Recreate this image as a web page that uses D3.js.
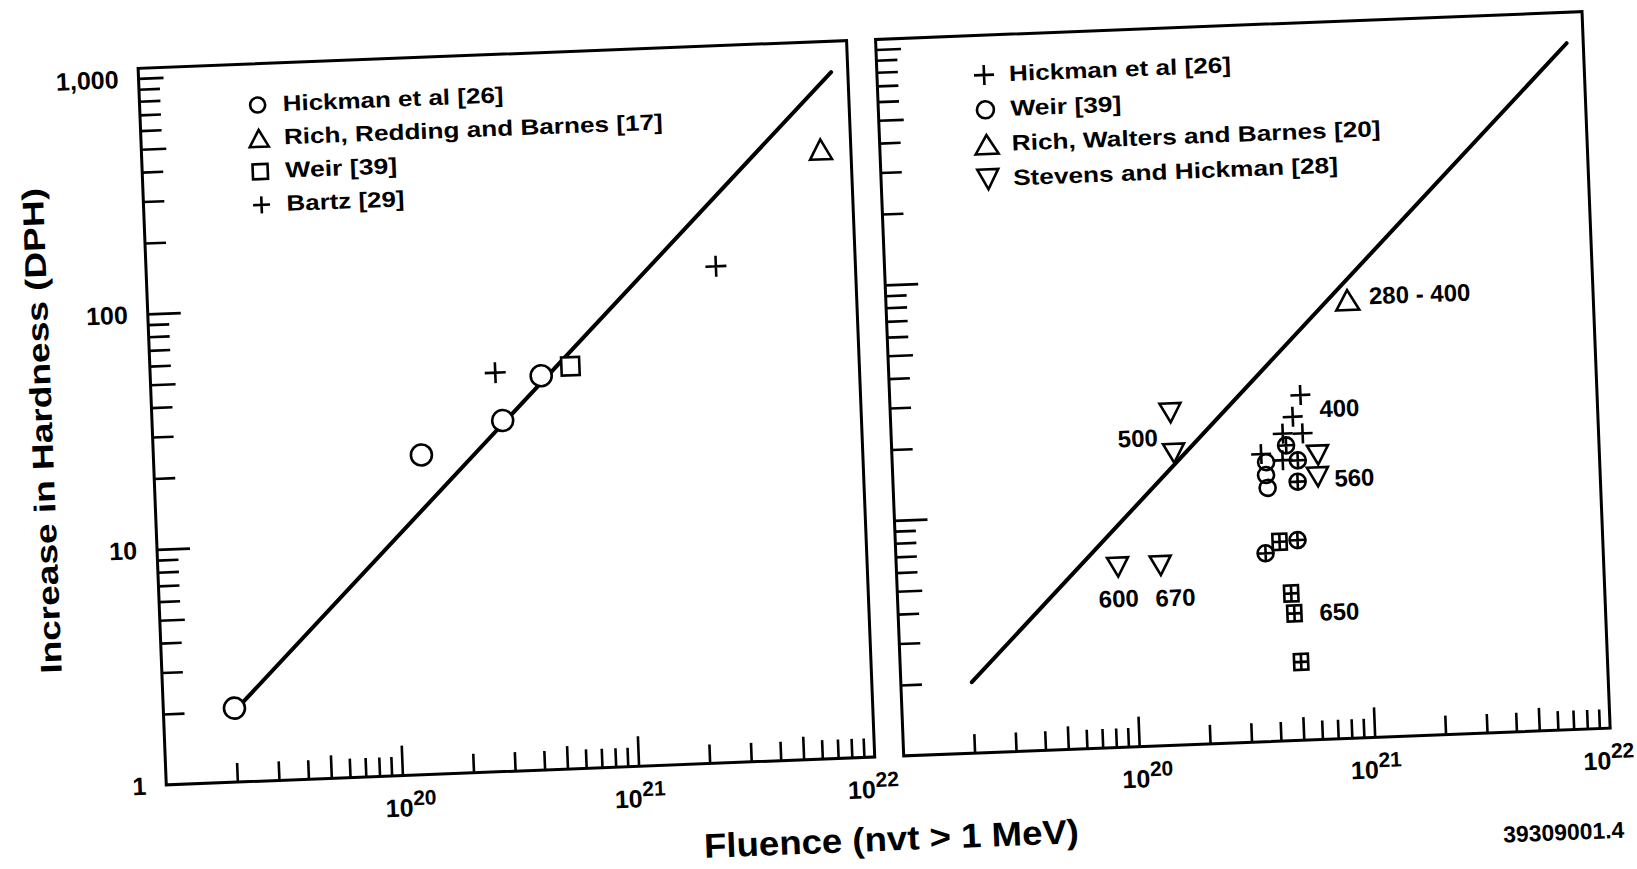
<!DOCTYPE html>
<html>
<head>
<meta charset="utf-8">
<script src="https://cdn.jsdelivr.net/npm/d3@7"></script>
<style>
  body { margin: 0; background: #fff; }
  text { font-family: "Liberation Sans", Arial, Helvetica, sans-serif; font-weight: bold; fill: #000; }
</style>
</head>
<body>
<div id="chart"></div>
<script>
// ---------- data ----------
// axis ticks
const xTickVals = [1e20, 1e21, 1e22];
const xTickExp = ["20", "21", "22"];
const yTickVals = [1, 10, 100, 1000];
const yTickText = ["1", "10", "100", "1,000"];

// fitted line (same in both panels)
const fitLine = [[2e19, 2], [8.5e21, 815]];

// left panel
const leftHickman = [[2.0e19, 2.06], [1.36e20, 22.7], [3.04e20, 30.8], [4.5e20, 47]];
const leftRich = [[7.45e21, 385]];
const leftWeir = [[6.0e20, 51]];
const leftBartz = [[2.88e20, 49.3], [2.57e21, 128]];
const leftLegend = ["Hickman et al [26]", "Rich, Redding and Barnes [17]", "Weir [39]", "Bartz [29]"];

// right panel
const rightHickman = [[5.52e20, 29.1], [5.08e20, 23.6], [5.56e20, 20.0], [4.58e20, 20.1], [3.68e20, 16.6], [4.53e20, 15.5]];
const rightWeir = [[3.85e20, 15.3], [3.83e20, 13.5], [3.87e20, 11.9]];
const rightCircledPlus = [[4.71e20, 17.9], [5.25e20, 15.4], [5.2e20, 12.5], [3.7e20, 6.29], [5.08e20, 7.07]];
const rightBoxedPlus = [[4.26e20, 7.0], [4.68e20, 4.21], [4.79e20, 3.46], [5.02e20, 2.15]];
const rightRich = [[9.06e20, 72.2]];
const rightStevens = [[1.54e20, 25.7], [1.57e20, 17.3], [8.7e19, 5.82], [1.32e20, 5.81], [6.4e20, 16.1], [6.34e20, 13.0]];
const rightLegend = ["Hickman et al [26]", "Weir [39]", "Rich, Walters and Barnes [20]", "Stevens and Hickman [28]"];

// temperature notes next to the right-panel points
const noteText = ["280 - 400", "400", "560", "650", "500", "600", "670"];
const noteX = [1.12e21, 6.61e20, 7.45e20, 6.11e20, 1.35e20, 8.67e19, 1.51e20];
const noteY = [75, 25.4, 12.8, 3.48, 20.4, 4.3, 4.25];
const noteAnchor = ["start", "start", "start", "start", "end", "middle", "middle"];

// ---------- layout ----------
const W = 1637, H = 869;
const yTop = 42, yBottom = 759;

const svg = d3.select("#chart").append("svg")
  .attr("width", W).attr("height", H);
svg.append("rect").attr("width", W).attr("height", H).attr("fill", "#fff");

// the scanned page is tilted a little
const fig = svg.append("g").attr("transform", "rotate(-2.25,818,434)");

const y = d3.scaleLog().domain([1, 1000]).range([yBottom, 52]);

// minor/major tick values (skip the corners)
let xTicks = [], yTicks = [];
for (let e = 19; e <= 21; e++) for (let m = 1; m <= 9; m++) {
  if (!(e === 19 && m === 1)) xTicks.push(m * Math.pow(10, e));
}
for (let e = 0; e <= 2; e++) for (let m = 1; m <= 9; m++) {
  if (!(e === 0 && m === 1)) yTicks.push(m * Math.pow(10, e));
}
yTicks.push(1000);

function mant(v) { return Math.round(v / Math.pow(10, Math.floor(Math.log10(v) + 1e-9))); }

function drawMarker(g, type, cx, cy, w, h, fill) {
  const sw = 2.6;
  const st = s => s.attr("fill", fill).attr("stroke", "#000").attr("stroke-width", sw);
  if (type === "circle") {
    st(g.append("circle").attr("cx", cx).attr("cy", cy).attr("r", w / 2));
  } else if (type === "triUp") {
    st(g.append("path").attr("d", `M${cx - w / 2},${cy + h / 2}L${cx + w / 2},${cy + h / 2}L${cx},${cy - h / 2}Z`));
  } else if (type === "triDown") {
    st(g.append("path").attr("d", `M${cx - w / 2},${cy - h / 2}L${cx + w / 2},${cy - h / 2}L${cx},${cy + h / 2}Z`));
  } else if (type === "square") {
    st(g.append("rect").attr("x", cx - w / 2).attr("y", cy - h / 2).attr("width", w).attr("height", h));
  } else if (type === "plus") {
    st(g.append("path").attr("d", `M${cx - w / 2},${cy}H${cx + w / 2}M${cx},${cy - h / 2}V${cy + h / 2}`));
  } else if (type === "circlePlus") {
    st(g.append("circle").attr("cx", cx).attr("cy", cy).attr("r", w / 2));
    st(g.append("path").attr("d", `M${cx - w / 2},${cy}H${cx + w / 2}M${cx},${cy - w / 2}V${cy + w / 2}`));
  } else if (type === "boxPlus") {
    st(g.append("rect").attr("x", cx - w / 2).attr("y", cy - h / 2).attr("width", w).attr("height", h));
    st(g.append("path").attr("d", `M${cx - w / 2},${cy}H${cx + w / 2}M${cx},${cy - h / 2}V${cy + h / 2}`));
  }
}

// label shift per decade label, the scan sets them a bit unevenly
const xLabelShift = [-18, -25, -28];

function drawPanel(x0, x1, yLabels) {
  const g = fig.append("g");
  const x = d3.scaleLog().domain([1e19, 1e22]).range([x0, x1]);

  // x ticks pointing up from the bottom edge
  const gx = g.append("g").attr("transform", `translate(0,${yBottom})`)
    .call(d3.axisBottom(x).tickValues(xTicks).tickFormat("").tickSizeOuter(0));
  gx.select(".domain").remove();
  gx.selectAll(".tick line")
    .attr("y2", d => mant(d) === 1 ? -30 : (mant(d) === 5 ? -23 : -19))
    .attr("stroke", "#000").attr("stroke-width", 2.6);

  // y ticks pointing right from the left edge
  const gy = g.append("g").attr("transform", `translate(${x0},0)`)
    .call(d3.axisLeft(y).tickValues(yTicks).tickFormat("").tickSizeOuter(0));
  gy.select(".domain").remove();
  gy.selectAll(".tick line")
    .attr("x2", d => mant(d) === 1 ? (d === 1000 ? 25 : 33) : (mant(d) === 5 ? 25 : 21))
    .attr("stroke", "#000").attr("stroke-width", 2.6);

  // frame
  g.append("rect").attr("x", x0).attr("y", yTop).attr("width", x1 - x0).attr("height", yBottom - yTop)
    .attr("fill", "none").attr("stroke", "#000").attr("stroke-width", 3);

  // x tick labels with superscript exponents
  xTickVals.forEach((v, i) => {
    const t = g.append("text").attr("x", x(v) + xLabelShift[i]).attr("y", yBottom + 41)
      .style("font-size", "25px");
    t.append("tspan").text("10");
    t.append("tspan").attr("dy", -11).style("font-size", "21px").text(xTickExp[i]);
  });

  if (yLabels) {
    yTickVals.forEach((v, i) => {
      g.append("text").attr("x", x0 - 20).attr("y", y(v) + 9)
        .attr("text-anchor", "end").style("font-size", "25px").text(yTickText[i]);
    });
  }

  // fitted line
  g.append("path").datum(fitLine)
    .attr("d", d3.line().x(d => x(d[0])).y(d => y(d[1])))
    .attr("fill", "none").attr("stroke", "#000").attr("stroke-width", 4)
    .attr("stroke-linecap", "round");
  return { g, x };
}

function legend(g, lx, ly, step, labels, types, sizes, widths) {
  labels.forEach((lab, i) => {
    const cy = ly + i * step;
    drawMarker(g, types[i], lx, cy, sizes[i][0], sizes[i][1], "none");
    g.append("text").attr("x", lx + 25).attr("y", cy + 7)
      .style("font-size", "22px")
      .attr("textLength", widths[i]).attr("lengthAdjust", "spacingAndGlyphs")
      .text(lab);
  });
}

// ----- left panel -----
const L = drawPanel(153, 862, true);
leftHickman.forEach(d => drawMarker(L.g, "circle", L.x(d[0]), y(d[1]), 21, 21, "#fff"));
leftRich.forEach(d => drawMarker(L.g, "triUp", L.x(d[0]), y(d[1]), 22, 20, "#fff"));
leftWeir.forEach(d => drawMarker(L.g, "square", L.x(d[0]), y(d[1]), 18, 18, "#fff"));
leftBartz.forEach(d => drawMarker(L.g, "plus", L.x(d[0]), y(d[1]), 21, 21, "none"));
legend(L.g, 271, 83.3, 33.3, leftLegend,
  ["circle", "triUp", "square", "plus"],
  [[15, 15], [19, 17], [15, 15], [17, 17]],
  [221, 379, 112, 118]);

// ----- right panel -----
const R = drawPanel(891, 1598, false);
rightWeir.forEach(d => drawMarker(R.g, "circle", R.x(d[0]), y(d[1]), 16, 16, "none"));
rightHickman.forEach(d => drawMarker(R.g, "plus", R.x(d[0]), y(d[1]), 20, 20, "none"));
rightCircledPlus.forEach(d => drawMarker(R.g, "circlePlus", R.x(d[0]), y(d[1]), 16, 16, "none"));
rightBoxedPlus.forEach(d => drawMarker(R.g, "boxPlus", R.x(d[0]), y(d[1]), 14, 16, "none"));
rightRich.forEach(d => drawMarker(R.g, "triUp", R.x(d[0]), y(d[1]), 23, 20, "#fff"));
rightStevens.forEach(d => drawMarker(R.g, "triDown", R.x(d[0]), y(d[1]), 21, 19, "#fff"));
legend(R.g, 998, 81.8, 34.8, rightLegend,
  ["plus", "circle", "triUp", "triDown"],
  [[20, 20], [17, 18], [23, 19], [21, 20]],
  [222, 111, 369, 325]);

noteText.forEach((t, i) => {
  R.g.append("text").attr("x", R.x(noteX[i])).attr("y", y(noteY[i]) + 9)
    .attr("text-anchor", noteAnchor[i]).style("font-size", "24px").text(t);
});

// ----- axis titles and figure number -----
fig.append("text")
  .attr("transform", "translate(53,400.5) rotate(-90)")
  .attr("text-anchor", "middle").style("font-size", "30px")
  .attr("textLength", 486).attr("lengthAdjust", "spacingAndGlyphs")
  .text("Increase in Hardness (DPH)");

fig.append("text").attr("x", 688).attr("y", 853)
  .style("font-size", "34px")
  .attr("textLength", 375).attr("lengthAdjust", "spacingAndGlyphs")
  .text("Fluence (nvt > 1 MeV)");

fig.append("text").attr("x", 1487).attr("y", 869)
  .style("font-size", "23px")
  .attr("textLength", 121).attr("lengthAdjust", "spacingAndGlyphs")
  .text("39309001.4");
</script>
</body>
</html>
